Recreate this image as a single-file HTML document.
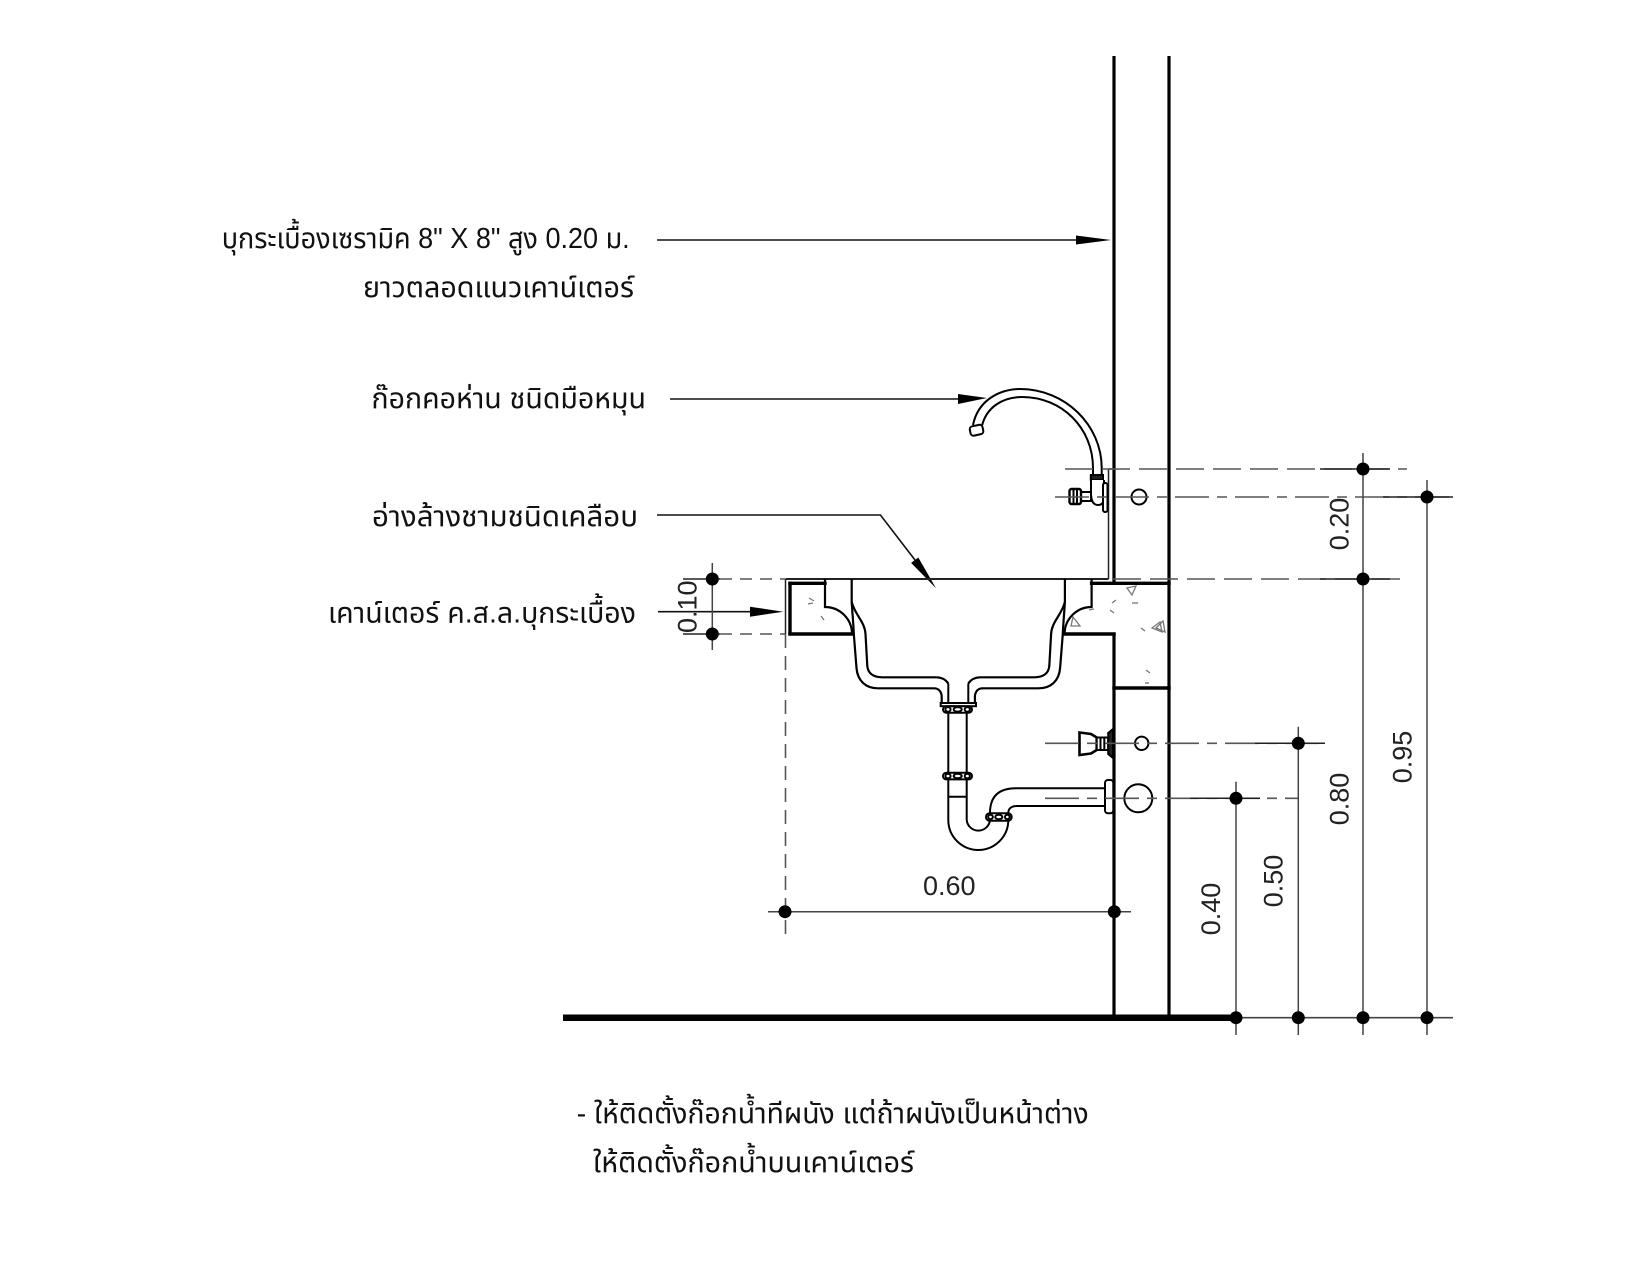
<!DOCTYPE html>
<html>
<head>
<meta charset="utf-8">
<style>
  html,body{margin:0;padding:0;background:#fff;}
  svg{display:block;}
  .th{font-family:"Liberation Sans","Noto Sans Thai","Noto Sans Thai Looped","Loma","Garuda","Tlwg Typo","Norasi","Waree","DejaVu Sans",sans-serif;font-size:29px;fill:#111;}
  .num{font-family:"Liberation Sans",sans-serif;font-size:27px;fill:#222;}
</style>
</head>
<body>
<svg width="1650" height="1275" viewBox="0 0 1650 1275" xmlns="http://www.w3.org/2000/svg">
<rect width="1650" height="1275" fill="#fff"/>

<!-- ===== Labels ===== -->
<text class="th" x="221.7" y="248" textLength="408" lengthAdjust="spacingAndGlyphs">บุกระเบื้องเซรามิค 8" X 8" สูง 0.20 ม.</text>
<text class="th" x="363" y="297" textLength="271" lengthAdjust="spacingAndGlyphs">ยาวตลอดแนวเคาน์เตอร์</text>
<text class="th" x="371.5" y="408" textLength="274.5" lengthAdjust="spacingAndGlyphs">ก๊อกคอห่าน ชนิดมือหมุน</text>
<text class="th" x="372" y="526" textLength="266" lengthAdjust="spacingAndGlyphs">อ่างล้างชามชนิดเคลือบ</text>
<text class="th" x="328" y="622.5" textLength="308" lengthAdjust="spacingAndGlyphs">เคาน์เตอร์ ค.ส.ล.บุกระเบื้อง</text>
<text class="th" x="576.7" y="1123" textLength="512" lengthAdjust="spacingAndGlyphs">- ให้ติดตั้งก๊อกน้ำทีผนัง แต่ถ้าผนังเป็นหน้าต่าง</text>
<text class="th" x="593" y="1172" textLength="321" lengthAdjust="spacingAndGlyphs">ให้ติดตั้งก๊อกน้ำบนเคาน์เตอร์</text>

<!-- ===== Leaders ===== -->
<g stroke="#111" stroke-width="1.6" fill="none">
  <line x1="657" y1="240" x2="1080" y2="240"/>
  <line x1="670" y1="399" x2="962" y2="399"/>
  <polyline points="657,515 880.4,515 915,560"/>
  <line x1="658" y1="611.7" x2="754" y2="611.7"/>
</g>
<g fill="#000">
  <polygon points="1076,235.5 1111,240 1076,244.5"/>
  <polygon points="958,394 987,398 958,404"/>
  <polygon points="918.3,557.5 936,588.3 911.1,562.9"/>
  <polygon points="750,606.7 783.3,611.7 750,616.7"/>
</g>

<!-- ===== Walls and floor ===== -->
<g stroke="#000" stroke-width="3.2" fill="none">
  <line x1="1114" y1="56" x2="1114" y2="584"/>
  <line x1="1114" y1="632.5" x2="1114" y2="1018"/>
  <line x1="1169" y1="56" x2="1169" y2="1018"/>
</g>
<line x1="563" y1="1017.7" x2="1240" y2="1017.7" stroke="#000" stroke-width="6.5"/>
<line x1="1240" y1="1017.7" x2="1453" y2="1017.7" stroke="#444" stroke-width="1.6"/>

<!-- ===== Tile layer ===== -->
<g stroke="#222" stroke-width="1.5" fill="none">
  <line x1="1108.5" y1="469" x2="1108.5" y2="579"/>
  <line x1="1108.5" y1="469" x2="1114" y2="469"/>
</g>

<!-- ===== Counter ===== -->
<line x1="785.5" y1="579" x2="1108.5" y2="579" stroke="#222" stroke-width="2"/>
<line x1="785.5" y1="579" x2="785.5" y2="634" stroke="#222" stroke-width="1.5"/>
<g stroke="#000" stroke-width="3.4" fill="none" stroke-linecap="square">
  <line x1="790" y1="583.3" x2="790" y2="633.5"/>
  <line x1="790" y1="583.3" x2="825" y2="583.3"/>
  <line x1="790" y1="634" x2="853" y2="634"/>
  <line x1="1091.6" y1="583.3" x2="1169" y2="583.3"/>
  <line x1="1063.6" y1="634" x2="1114" y2="634"/>
  <line x1="1114" y1="688" x2="1169" y2="688"/>
</g>

<!-- concrete hatch -->
<g stroke="#777" stroke-width="1.3" fill="none">
  <line x1="809" y1="598" x2="814" y2="601"/>
  <line x1="808" y1="604" x2="813" y2="603"/>
  <line x1="821" y1="616" x2="824" y2="620"/>
  <polygon points="1127,588 1136,586 1132,595"/>
  <polygon points="1073,617 1080,626 1071,626"/>
  <polygon points="1152,628 1160,622 1162,632"/>
  <polygon points="1156,628 1163,621 1165,632"/>
  <line x1="1112" y1="603" x2="1116" y2="600"/>
  <line x1="1132" y1="603" x2="1138" y2="603"/>
  <line x1="1089" y1="610" x2="1094" y2="609"/>
  <line x1="1110" y1="610" x2="1114" y2="613"/>
  <line x1="1141" y1="628" x2="1145" y2="631"/>
  <line x1="1146" y1="670" x2="1150" y2="673"/>
  <line x1="1145" y1="683" x2="1149" y2="683"/>
</g>

<!-- ===== Basin (left half + mirrored) ===== -->
<g stroke="#000" stroke-width="2.2" fill="none">
  <path d="M825 579 L825 607 A27 27 0 0 1 852 634"/>
  <path d="M851.7 579 L851.7 602 C852.5 615 853.5 625 853.8 634 L856.5 668 C857.5 681 866 688.3 878 688.3 L934 688.3 C939 688.3 941.7 692 941.7 697 L941.7 703"/>
  <path d="M851.7 602 C855 615 865 622 865.5 634 L867.3 666 C868 673 873 677.3 882 677.3 L936 677.3 C942 677.3 946 680 948.3 683.5"/>
</g>
<g transform="translate(1916.6,0) scale(-1,1)">
  <g stroke="#000" stroke-width="2.2" fill="none">
    <path d="M825 579 L825 607 A27 27 0 0 1 852 634"/>
    <path d="M851.7 579 L851.7 602 C852.5 615 853.5 625 853.8 634 L856.5 668 C857.5 681 866 688.3 878 688.3 L934 688.3 C939 688.3 941.7 692 941.7 697 L941.7 703"/>
    <path d="M851.7 602 C855 615 865 622 865.5 634 L867.3 666 C868 673 873 677.3 882 677.3 L936 677.3 C942 677.3 946 680 948.3 683.5"/>
  </g>
</g>

<!-- ===== Drain, tailpipe, trap ===== -->
<g stroke="#000" stroke-width="2" fill="none">
  <line x1="948.3" y1="683.5" x2="948.3" y2="703"/>
  <line x1="968.3" y1="683.5" x2="968.3" y2="703"/>
  <rect x="940.7" y="703" width="35.3" height="3.2" fill="#fff"/>
  <rect x="943" y="706.2" width="29" height="6.5" rx="3.2" fill="#fff"/>
  <ellipse cx="948" cy="709.4" rx="2.6" ry="2.3"/>
  <ellipse cx="957.7" cy="709.4" rx="4" ry="2.3"/>
  <ellipse cx="967.3" cy="709.4" rx="2.6" ry="2.3"/>
  <!-- tail pipe -->
  <line x1="948.3" y1="712.7" x2="948.3" y2="820"/>
  <line x1="966.7" y1="712.7" x2="966.7" y2="820"/>
  <line x1="948.3" y1="796.7" x2="966.7" y2="796.7"/>
  <rect x="943" y="772.7" width="29" height="6.7" rx="3.3" fill="#fff"/>
  <ellipse cx="948" cy="776" rx="2.6" ry="2.3"/>
  <ellipse cx="957.7" cy="776" rx="4" ry="2.3"/>
  <ellipse cx="967.3" cy="776" rx="2.6" ry="2.3"/>
  <!-- trap -->
  <path d="M948.3 820 A30 30 0 0 0 1008.3 820 L1008.3 813"/>
  <path d="M966.7 820 A11.7 11.7 0 0 0 990 820 L990 813"/>
  <!-- elbow/arm -->
  <path d="M990 813 C990 796 999 788.3 1016 788.3 L1105 788.3"/>
  <path d="M1008.3 813 C1008.3 808.5 1011.5 806 1017 806 L1105 806"/>
  <rect x="986" y="813.3" width="25.7" height="7.4" rx="3.6" fill="#fff"/>
  <ellipse cx="990.5" cy="817" rx="2.3" ry="2.2"/>
  <ellipse cx="998.8" cy="817" rx="3.6" ry="2.2"/>
  <ellipse cx="1007.3" cy="817" rx="2.3" ry="2.2"/>
  <rect x="1105" y="780" width="8.3" height="33.3" rx="3" fill="#fff"/>
</g>

<!-- ===== Stop valve ===== -->
<g stroke="#000" stroke-width="2" fill="#fff">
  <path d="M1079.5 732.5 L1091 734 L1096.7 737.5 L1096.7 750 L1091 753.5 L1079.5 755 Z" stroke-width="2.6"/>
  <rect x="1096.7" y="737.5" width="11.5" height="12.5"/>
  <line x1="1100.5" y1="737.5" x2="1100.5" y2="750"/>
  <line x1="1104.3" y1="737.5" x2="1104.3" y2="750"/>
  <path d="M1108.2 733 L1113 729 L1113 758 L1108.2 754 Z" fill="#222"/>
</g>

<!-- ===== Faucet ===== -->
<g stroke="#000" stroke-width="2" fill="none">
  <path d="M973 425 C978 400 1000 389 1020 389 C1065 389 1101.7 425 1101.7 468 L1101.7 476"/>
  <path d="M981.7 427 C986 407 1003 397 1022 397 C1062 397 1093 428 1093 468 L1093 476"/>
  <rect x="970" y="425.5" width="13" height="9.5" rx="3" transform="rotate(-12 976.5 430)" fill="#fff"/>
  <rect x="1090.8" y="475" width="12.2" height="5" fill="#222"/>
  <path d="M1091 480 L1091 493 Q1091 505 1098 505 Q1104 505 1104 497 L1104 480" fill="#fff"/>
  <rect x="1081" y="492" width="10" height="9" fill="#fff"/>
  <rect x="1069.5" y="489" width="11.5" height="15" rx="2" fill="#fff" stroke-width="2.4"/>
  <line x1="1073.5" y1="489" x2="1073.5" y2="504"/>
  <line x1="1077" y1="489" x2="1077" y2="504"/>
  <rect x="1103" y="483" width="4.5" height="29" rx="2" fill="#fff"/>
</g>

<!-- ===== Fixture circles on wall ===== -->
<g stroke="#000" stroke-width="2" fill="none">
  <circle cx="1139" cy="497" r="7.5"/>
  <circle cx="1141.7" cy="743.3" r="6.7"/>
  <circle cx="1138.3" cy="798.3" r="14"/>
</g>

<!-- ===== Dimension / center lines ===== -->
<g stroke="#555" stroke-width="1.6" fill="none">
  <line x1="1065" y1="469" x2="1407" y2="469" stroke-dasharray="28 9"/>
  <line x1="1055" y1="497" x2="1453" y2="497" stroke-dasharray="34 8 10 8"/>
  <line x1="1113" y1="579" x2="1407" y2="579" stroke-dasharray="28 9"/>
  <line x1="1045" y1="743.3" x2="1325" y2="743.3" stroke-dasharray="34 8 10 8"/>
  <line x1="1045" y1="798.3" x2="1299" y2="798.3" stroke-dasharray="34 8 10 8"/>
  <line x1="720" y1="579" x2="785" y2="579" stroke-dasharray="12 8"/>
  <line x1="720" y1="634" x2="785" y2="634" stroke-dasharray="12 8"/>
  <line x1="785.5" y1="634" x2="785.5" y2="938" stroke-dasharray="14 8"/>
</g>
<g stroke="#222" stroke-width="1.5" fill="none">
  <line x1="1320" y1="469" x2="1390" y2="469"/>
  <line x1="1383" y1="497" x2="1453" y2="497"/>
  <line x1="1320" y1="579" x2="1390" y2="579"/>
  <line x1="1255" y1="743.3" x2="1325" y2="743.3"/>
  <line x1="1190" y1="798.3" x2="1260" y2="798.3"/>
  <line x1="683" y1="579" x2="720" y2="579"/>
  <line x1="683" y1="634" x2="720" y2="634"/>
</g>
<g stroke="#444" stroke-width="1.5" fill="none">
  <line x1="1363" y1="453" x2="1363" y2="1035"/>
  <line x1="1427" y1="480" x2="1427" y2="1035"/>
  <line x1="1298.3" y1="726.7" x2="1298.3" y2="1035"/>
  <line x1="1236" y1="781.7" x2="1236" y2="1035"/>
  <line x1="712.3" y1="563" x2="712.3" y2="650"/>
  <line x1="768" y1="911.7" x2="1131" y2="911.7"/>
</g>

<!-- dots -->
<g fill="#000">
  <circle cx="1363" cy="469" r="6.5"/>
  <circle cx="1427" cy="497" r="6.5"/>
  <circle cx="1363" cy="579" r="6.5"/>
  <circle cx="1298.3" cy="743.3" r="6.5"/>
  <circle cx="1236" cy="798.3" r="6.5"/>
  <circle cx="1236" cy="1017.7" r="6.5"/>
  <circle cx="1298.3" cy="1017.7" r="6.5"/>
  <circle cx="1363" cy="1017.7" r="6.5"/>
  <circle cx="1427" cy="1017.7" r="6.5"/>
  <circle cx="712.3" cy="579" r="6.5"/>
  <circle cx="712.3" cy="634" r="6.5"/>
  <circle cx="785" cy="911.7" r="6.5"/>
  <circle cx="1114.3" cy="911.7" r="6.5"/>
</g>

<!-- dimension texts -->
<text class="num" x="949.3" y="895" text-anchor="middle">0.60</text>
<text class="num" text-anchor="middle" transform="translate(696.7,606.7) rotate(-90)">0.10</text>
<text class="num" text-anchor="middle" transform="translate(1348.3,524) rotate(-90)">0.20</text>
<text class="num" text-anchor="middle" transform="translate(1220,909) rotate(-90)">0.40</text>
<text class="num" text-anchor="middle" transform="translate(1282.7,881) rotate(-90)">0.50</text>
<text class="num" text-anchor="middle" transform="translate(1348.3,799) rotate(-90)">0.80</text>
<text class="num" text-anchor="middle" transform="translate(1411.7,757) rotate(-90)">0.95</text>

</svg>
</body>
</html>
